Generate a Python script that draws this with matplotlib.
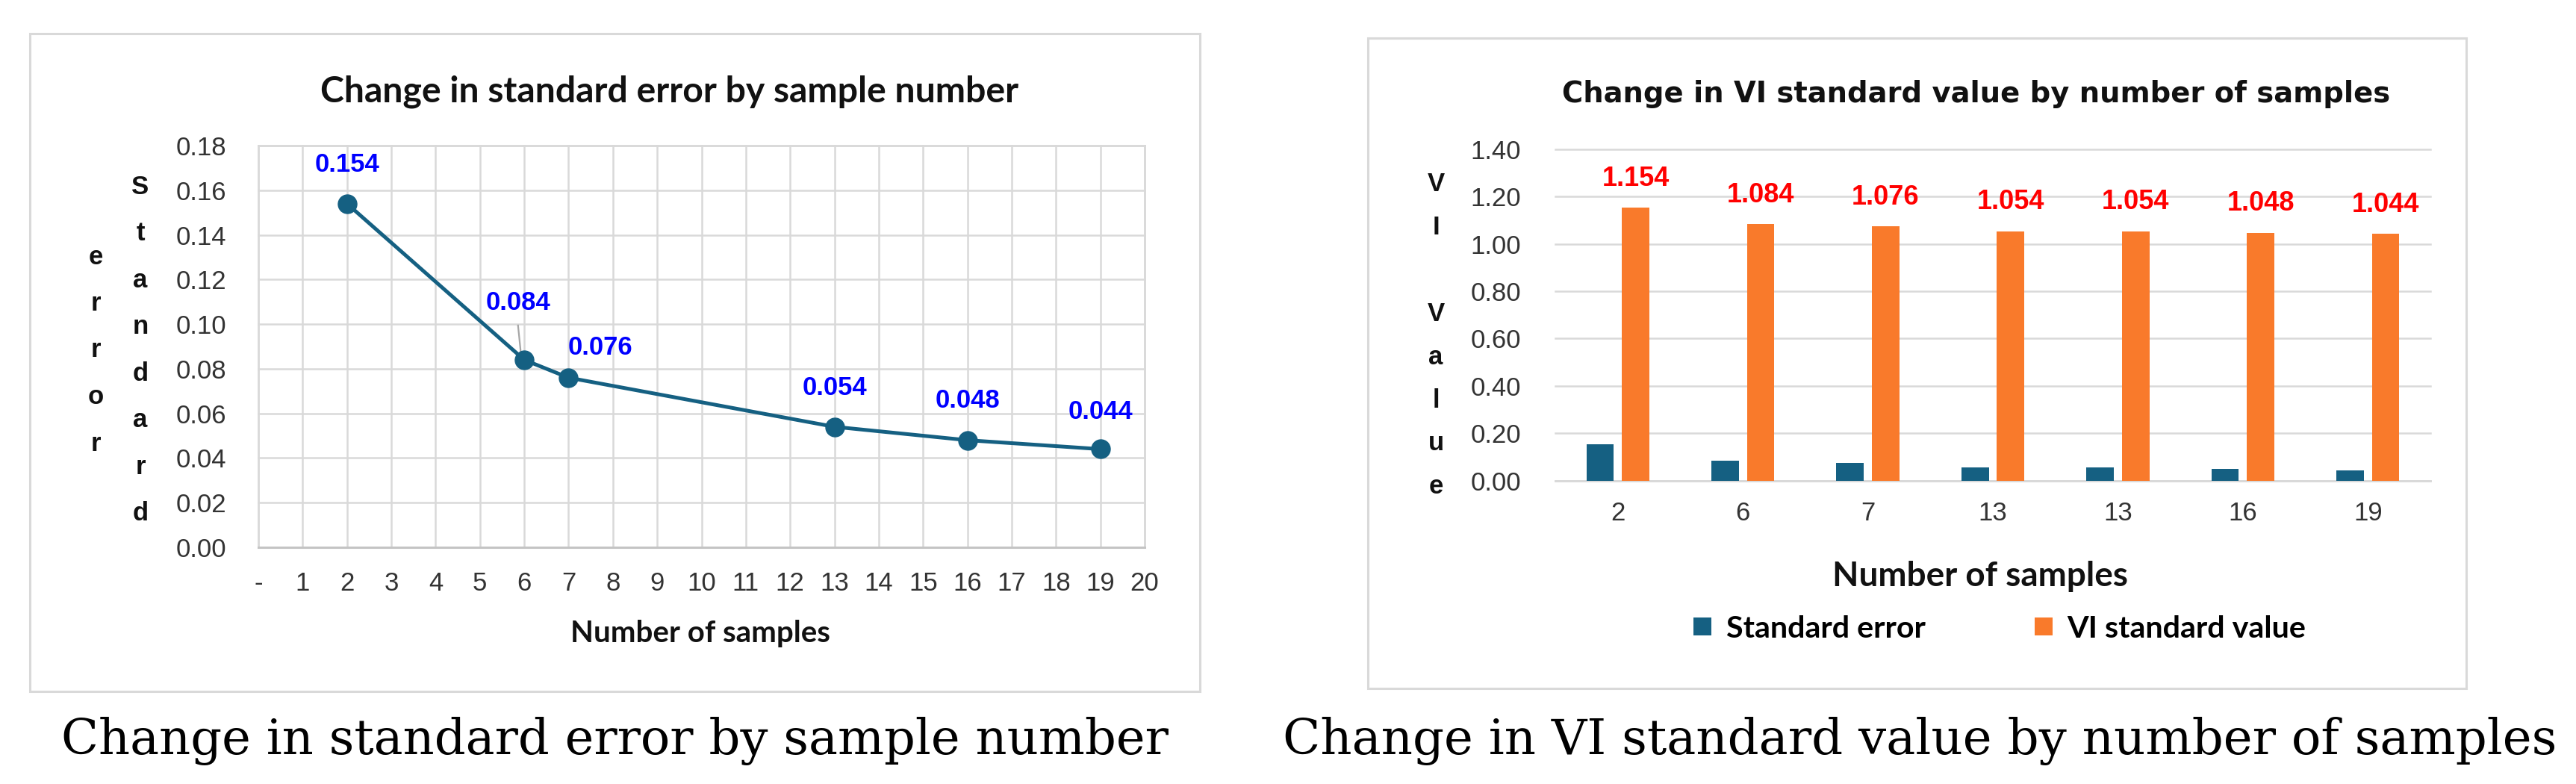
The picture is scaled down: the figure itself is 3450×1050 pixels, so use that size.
import matplotlib
matplotlib.use("Agg")
import matplotlib.pyplot as plt
import numpy as np
from matplotlib.patches import Rectangle

# ---------------- data ----------------
sample_numbers = [2, 6, 7, 13, 16, 19]
standard_error = [0.154, 0.084, 0.076, 0.054, 0.048, 0.044]
left_xticks = list(range(0, 21))
left_xticklabels = ["-"] + [str(i) for i in range(1, 21)]
left_yticks = [0.00, 0.02, 0.04, 0.06, 0.08, 0.10, 0.12, 0.14, 0.16, 0.18]

bar_categories = ["2", "6", "7", "13", "13", "16", "19"]
bar_standard_error = [0.154, 0.084, 0.076, 0.054, 0.054, 0.048, 0.044]
bar_vi_value = [1.154, 1.084, 1.076, 1.054, 1.054, 1.048, 1.044]
right_yticks = [0.0, 0.2, 0.4, 0.6, 0.8, 1.0, 1.2, 1.4]

left_title = "Change in standard error by sample number"
right_title = "Change in VI standard value by number of samples"
x_label = "Number of samples"
left_ylabel_cols = ["Standard", "error"]
right_ylabel = "VI Value"
legend_labels = ["Standard error", "VI standard value"]

# ---------------- style ----------------
TEAL = "#156082"
ORANGE = "#F97A2B"
GRID = "#D9D9D9"
TICKC = "#333333"
W, H = 3450, 1050

fig = plt.figure(figsize=(W / 100, H / 100), dpi=100)
fig.patch.set_facecolor("white")
renderer = fig.canvas.get_renderer()


def fx(px):
    return px / W


def fy(py):
    return 1 - py / H


def fit_text(xc, yb, s, target_w, ha="center", va="baseline", **kw):
    t = fig.text(fx(xc), fy(yb), s, ha=ha, va=va, **kw)
    w = t.get_window_extent(renderer).width
    t.set_fontsize(t.get_fontsize() * target_w / w)
    return t


# chart boxes
for (x0, y0, x1, y1) in [(40, 45, 1607, 926), (1832, 51, 3303, 922)]:
    fig.add_artist(Rectangle((fx(x0), fy(y1)), fx(x1) - fx(x0), fy(y0) - fy(y1),
                             transform=fig.transFigure, fill=False,
                             ec=GRID, lw=2.2))

# ---------------- left chart ----------------
ax = fig.add_axes([fx(346), fy(733), fx(1533) - fx(346), fy(195) - fy(733)])
ax.set_xlim(0, 20)
ax.set_ylim(0, 0.18)
ax.set_xticks(left_xticks)
ax.set_xticklabels(left_xticklabels)
ax.set_yticks(left_yticks)
ax.set_yticklabels([f"{v:.2f}" for v in left_yticks])
ax.grid(True, color=GRID, lw=1.8)
ax.set_axisbelow(True)
for gl in ax.get_xgridlines() + ax.get_ygridlines():
    gl.set_clip_on(False)
for sp in ax.spines.values():
    sp.set_color(GRID)
    sp.set_linewidth(1.8)
ax.spines["bottom"].set_color("#C4C4C4")
ax.spines["bottom"].set_linewidth(2.2)
ax.tick_params(length=0, labelsize=25, labelcolor=TICKC)
ax.tick_params(axis="x", pad=23)
ax.tick_params(axis="y", pad=31)
for lab in ax.get_xticklabels() + ax.get_yticklabels():
    lab.set_family("Liberation Sans")

ax.plot(sample_numbers, standard_error, color=TEAL, lw=3.6, marker="o",
        ms=18, zorder=4, clip_on=False)

# data labels (offsets in data units)
label_dx = [0.0, -0.13, 0.72, 0.0, 0.0, 0.0]
label_dy = [0.0175, 0.0257, 0.0135, 0.0175, 0.0177, 0.0168]
for xv, yv, dx, dy in zip(sample_numbers, standard_error, label_dx, label_dy):
    ax.text(xv + dx, yv + dy, f"{yv:.3f}", ha="center", va="center",
            color="#0000FF", fontsize=25, fontweight="bold",
            family="Liberation Sans", zorder=5)
# leader line for the moved 0.084 label
i084 = 1
ax.plot([sample_numbers[i084] - 0.14, sample_numbers[i084] - 0.06],
        [standard_error[i084] + 0.0154, standard_error[i084] - 0.0002],
        color="#A6A6A6", lw=1.6, zorder=3)

# stacked y label letters
col_x = [188, 128]
for cx, word in zip(col_x, left_ylabel_cols):
    n = len(word)
    step = 62.5
    start = 469 - step * (n - 1) / 2
    for i, ch in enumerate(word):
        fig.text(fx(cx), fy(start + i * step), ch, ha="center", va="center",
                 fontsize=25, fontweight="bold", family="Liberation Sans",
                 color="#111111")

fit_text(897, 137, left_title, 934, fontsize=30, fontweight="bold",
         family="Lato", color="#111111")
fit_text(938, 860, x_label, 347, fontsize=24, fontweight="bold",
         family="Lato", color="#111111")

# ---------------- right chart ----------------
ax2 = fig.add_axes([fx(2083), fy(643.6), fx(3255) - fx(2083), fy(200) - fy(643.6)])
xs = np.arange(len(bar_categories))
bw = 0.22
off = 0.142
b1 = ax2.bar(xs - off, bar_standard_error, bw, color=TEAL, zorder=3,
             label=legend_labels[0])
b2 = ax2.bar(xs + off, bar_vi_value, bw, color=ORANGE, zorder=3,
             label=legend_labels[1])
ax2.set_xlim(-0.5, len(bar_categories) - 0.5)
ax2.set_ylim(0, 1.4)
ax2.set_xticks(xs)
ax2.set_xticklabels(bar_categories)
ax2.set_yticks(right_yticks)
ax2.set_yticklabels([f"{v:.2f}" for v in right_yticks])
ax2.grid(True, axis="y", color=GRID, lw=1.8)
ax2.set_axisbelow(True)
for gl in ax2.get_ygridlines():
    gl.set_clip_on(False)
for k in ["left", "right", "top"]:
    ax2.spines[k].set_visible(False)
ax2.spines["bottom"].set_color(GRID)
ax2.spines["bottom"].set_linewidth(2.0)
ax2.tick_params(length=0, labelsize=25, labelcolor=TICKC)
ax2.tick_params(axis="x", pad=20)
ax2.tick_params(axis="y", pad=33)
for lab in ax2.get_xticklabels() + ax2.get_yticklabels():
    lab.set_family("Liberation Sans")

for xv, v in zip(xs, bar_vi_value):
    ax2.text(xv + off, v + 0.122, f"{v:.3f}", ha="center", va="center",
             color="#FF0000", fontsize=26, fontweight="bold",
             family="Liberation Sans", zorder=5)

# stacked y label
step = 57.8
start = 247
for i, ch in enumerate(right_ylabel):
    if ch.strip():
        fig.text(fx(1923), fy(start + i * step), ch, ha="center", va="center",
                 fontsize=25, fontweight="bold", family="Liberation Sans",
                 color="#111111")

fit_text(2647, 137, right_title, 1110, fontsize=30, fontweight="bold",
         family="DejaVu Sans", color="#111111")
fit_text(2652, 785, x_label, 396, fontsize=26, fontweight="bold",
         family="Lato", color="#111111")

# legend
tmp = fig.text(0, 0, legend_labels[0], fontsize=20, fontweight="bold", family="Lato")
lw_ = tmp.get_window_extent(renderer).width
tmp.remove()
lfs = 20 * 267 / lw_
fsp = lfs * 100 / 72
hh = (24 / fsp - 0.245) / 0.65
fig.legend(handles=[b1, b2], labels=legend_labels, loc="center",
           bbox_to_anchor=(fx(2678), fy(842)), ncol=2, frameon=False,
           prop={"family": "Lato", "weight": "bold", "size": lfs},
           handlelength=24 / fsp, handleheight=hh,
           handletextpad=20 / fsp, columnspacing=146 / fsp, borderpad=0)

# ---------------- captions ----------------
fit_text(823.5, 1010, "Change in standard error by sample number", 1485,
         fontsize=50, family="DejaVu Serif", color="black")
fit_text(2571, 1010, "Change in VI standard value by number of samples", 1710,
         fontsize=50, family="DejaVu Serif", color="black")

fig.savefig("out.png", dpi=100, facecolor="white")
